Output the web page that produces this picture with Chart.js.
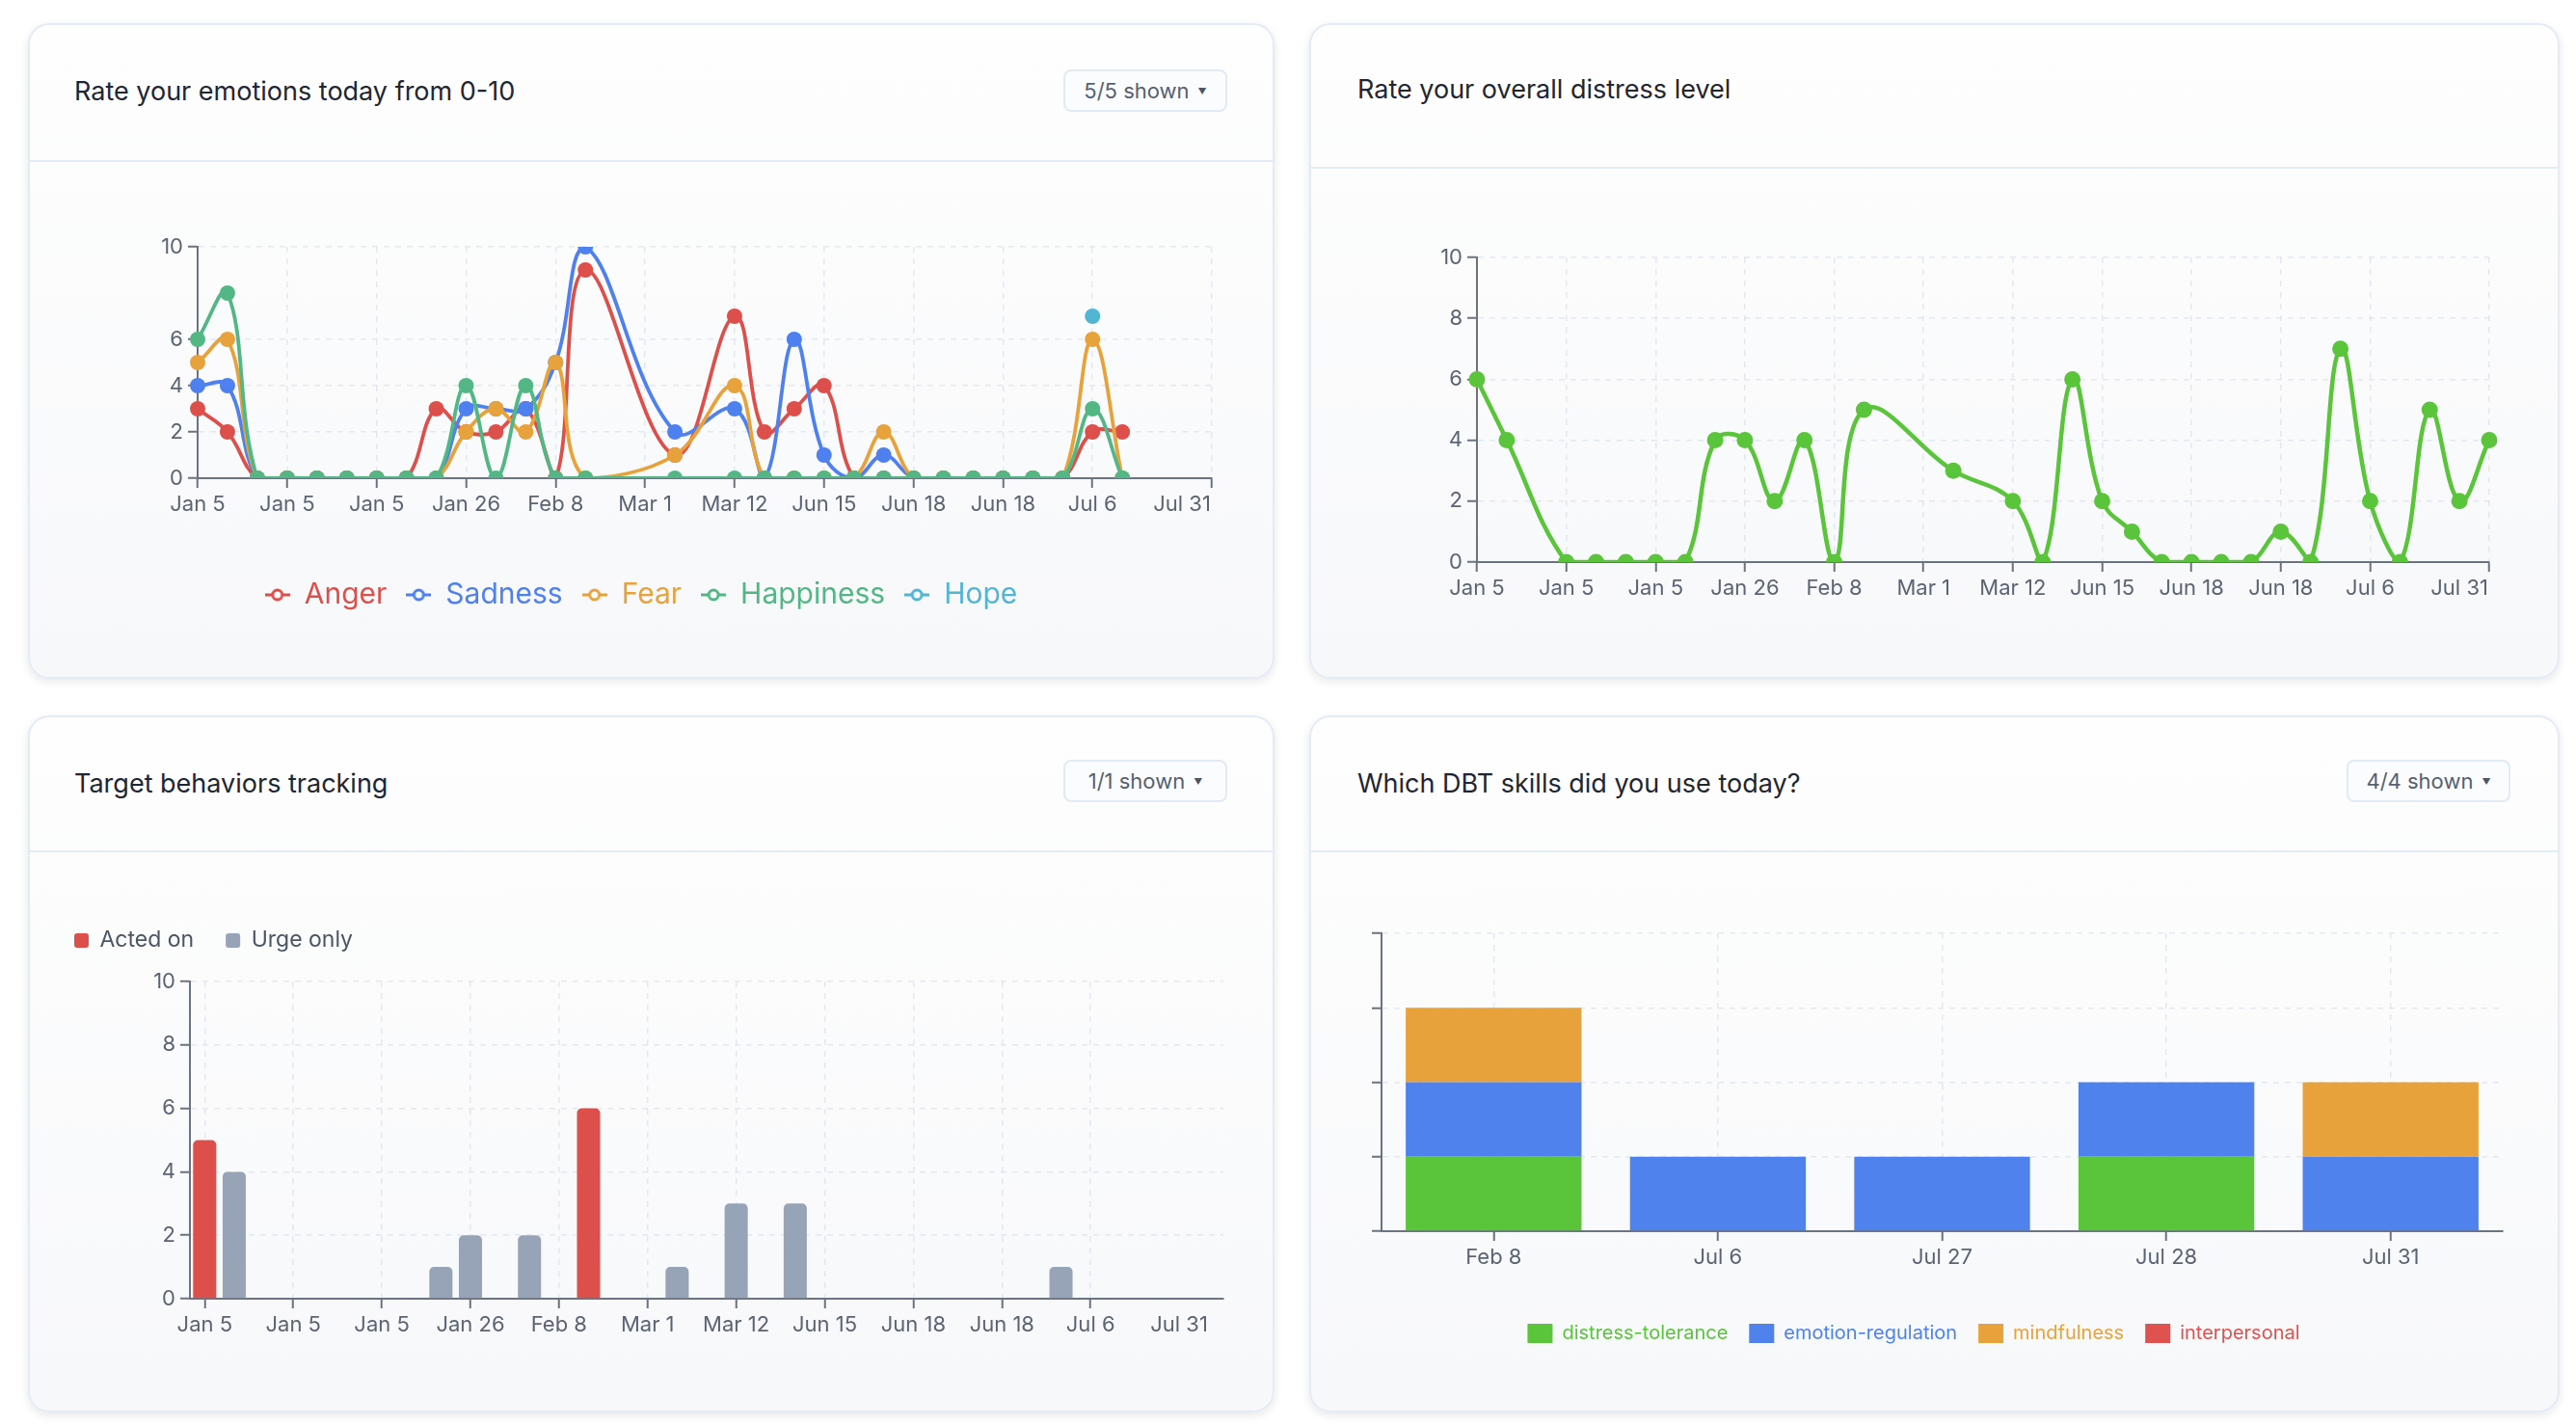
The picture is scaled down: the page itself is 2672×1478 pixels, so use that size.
<!DOCTYPE html>
<html>
<head>
<meta charset="utf-8">
<script src="https://cdn.jsdelivr.net/npm/chart.js@4.4.1/dist/chart.umd.min.js"></script>
<style>
  body { margin: 0; width: 2672px; height: 1478px; position: relative; overflow: hidden; background: #fff; font-family: Inter, 'Noto Sans', sans-serif; }
  .card { position: absolute; box-sizing: border-box; border: 2px solid #e3ebf6; border-radius: 22px; background: linear-gradient(180deg, #fefefe 0%, #f7f8fa 100%); box-shadow: 0 3px 10px rgba(15, 23, 42, 0.10); }
  .head { position: absolute; left: 0; right: 0; top: 0; box-sizing: border-box; border-bottom: 2px solid #e3ebf6; }
  .title { position: absolute; font-size: 27px; line-height: 1; color: #1f2633; transform: translateY(-50%); white-space: nowrap; }
  .btn { position: absolute; width: 170px; height: 44px; box-sizing: border-box; border: 2px solid #e2eaf4; border-radius: 8px; background: #fafcfe; color: #566071; font-size: 22px; display: flex; align-items: center; justify-content: center; }
  .btn .caret { font-size: 9px; margin-left: 9px; color: #4b5563; }
  .body { position: absolute; left: 0; right: 0; bottom: 0; }
</style>
</head>
<body>

<div class="card" style="left:29px; top:24px; width:1293px; height:680px;">
  <div class="head" style="height:142px;">
    <div class="title" style="left:46px; top:68px;">Rate your emotions today from 0-10</div>
    <div class="btn" style="right:47px; top:46px;">5/5 shown<span class="caret">▼</span></div>
  </div>
  <div class="body" style="top:142px;"><canvas id="emotions"></canvas></div>
</div>

<div class="card" style="left:1358px; top:24px; width:1297px; height:680px;">
  <div class="head" style="height:149px;">
    <div class="title" style="left:48px; top:66px;">Rate your overall distress level</div>
  </div>
  <div class="body" style="top:149px;"><canvas id="distress"></canvas></div>
</div>

<div class="card" style="left:29px; top:742px; width:1293px; height:723px;">
  <div class="head" style="height:140px;">
    <div class="title" style="left:46px; top:68px;">Target behaviors tracking</div>
    <div class="btn" style="right:47px; top:44px;">1/1 shown<span class="caret">▼</span></div>
  </div>
  <div class="body" style="top:140px;"><canvas id="behaviors"></canvas></div>
</div>

<div class="card" style="left:1358px; top:742px; width:1297px; height:723px;">
  <div class="head" style="height:140px;">
    <div class="title" style="left:48px; top:68px;">Which DBT skills did you use today?</div>
    <div class="btn" style="right:49px; top:44px;">4/4 shown<span class="caret">▼</span></div>
  </div>
  <div class="body" style="top:140px;"><canvas id="skills"></canvas></div>
</div>

<script>
// one label per check-in, shared by the three daily charts
const dates = ['Jan 5', 'Jan 5', 'Jan 5', 'Jan 5', 'Jan 5', 'Jan 5', 'Jan 5', 'Jan 5', 'Jan 19', 'Jan 26',
  'Jan 26', 'Feb 2', 'Feb 8', 'Feb 8', 'Feb 15', 'Mar 1', 'Mar 5', 'Mar 8', 'Mar 12', 'Mar 20',
  'Jun 15', 'Jun 15', 'Jun 16', 'Jun 17', 'Jun 18', 'Jun 18', 'Jun 18', 'Jun 18', 'Jun 30', 'Jul 6',
  'Jul 6', 'Jul 27', 'Jul 28', 'Jul 31', 'Jul 31'];
// which dates get a tick (34 only gets the tick mark, 33 only the label)
const dateTicks = [0, 3, 6, 9, 12, 15, 18, 21, 24, 27, 30, 33, 34];
const barTicks = [0, 3, 6, 9, 12, 15, 18, 21, 24, 27, 30, 33];

const anger     = [3, 2, 0, 0, 0, 0, 0, 0, 3, 2, 2, 3, 0, 9, null, null, 1, null, 7, 2, 3, 4, 0, 0, 0, 0, 0, 0, 0, 0, 2, 2, null, null, null];
const sadness   = [4, 4, 0, 0, 0, 0, 0, 0, 0, 3, 3, 3, 5, 10, null, null, 2, null, 3, 0, 6, 1, 0, 1, 0, 0, 0, 0, 0, 0, null, null, null, null, null];
const fear      = [5, 6, 0, 0, 0, 0, 0, 0, 0, 2, 3, 2, 5, 0, null, null, 1, null, 4, 0, 0, 0, 0, 2, 0, 0, 0, 0, 0, 0, 6, 0, null, null, null];
const happiness = [6, 8, 0, 0, 0, 0, 0, 0, 0, 4, 0, 4, 0, 0, null, null, 0, null, 0, 0, 0, 0, 0, 0, 0, 0, 0, 0, 0, 0, 3, 0, null, null, null];
const hope      = [null, null, null, null, null, null, null, null, null, null, null, null, null, null, null, null, null, null,
  null, null, null, null, null, null, null, null, null, null, null, null, 7, null, null, null, null];
const emotionTicks = [0, 2, 4, 6, 10];

const distress = [6, 4, null, 0, 0, 0, 0, 0, 4, 4, 2, 4, 0, 5, null, null, 3, null, 2, 0, 6, 2, 1, 0, 0, 0, 0, 1, 0, 7, 2, 0, 5, 2, 4];

const actedOn  = [5, 0, 0, 0, 0, 0, 0, 0, 0, 0, 0, 0, 0, 6, 0, 0, 0, 0, 0, 0, 0, 0, 0, 0, 0, 0, 0, 0, 0, 0, 0, 0, 0, 0, 0];
const urgeOnly = [0, 4, 0, 0, 0, 0, 0, 0, 1, 2, 0, 2, 0, 0, 0, 0, 1, 0, 3, 0, 3, 0, 0, 0, 0, 0, 0, 0, 0, 1, 0, 0, 0, 0, 0];

const skillDates = ['Feb 8', 'Jul 6', 'Jul 27', 'Jul 28', 'Jul 31'];
const distressTolerance = [1, 0, 0, 1, 0];
const emotionRegulation = [1, 1, 1, 1, 1];
const mindfulness       = [1, 0, 0, 0, 1];
const interpersonal     = [0, 0, 0, 0, 0];

const colors = {
  anger: '#dd4f4a', sadness: '#4f80ef', fear: '#e8a23b', happiness: '#52b784', hope: '#52b5d4',
  distress: '#5ac43b', urge: '#97a3b6', skillGreen: '#5ac43b', skillBlue: '#4f82ec', skillOrange: '#e8a23c', skillRed: '#e0524f'
};
const axisColor = '#6b7280';
const gridColor = 'rgba(210, 219, 231, 0.55)';

Chart.defaults.font.family = 'Inter, "Noto Sans", sans-serif';
Chart.defaults.font.size = 22;
Chart.defaults.color = '#5b6473';
Chart.defaults.animation = false;
Chart.defaults.plugins.tooltip.enabled = false;

// hides the tick mark at the "Jul 31" label, the end tick carries the mark instead
function tickMarkColor(ctx) {
  return ctx.tick && ctx.tick.value === 33 ? 'rgba(0,0,0,0)' : axisColor;
}
function gridLineColor(ctx) {
  return ctx.tick && ctx.tick.value === 33 ? 'rgba(0,0,0,0)' : gridColor;
}

function xAxis(height, ticks, isBar) {
  return {
    offset: !!isBar,
    stacked: !!isBar,
    afterBuildTicks: (axis) => { axis.ticks = ticks.map(v => ({value: v})); },
    afterFit: (scale) => { scale.height = height; },
    ticks: {
      autoSkip: false, maxRotation: 0, padding: 4,
      callback: (value) => value === 34 ? '' : dates[value]
    },
    grid: { offset: false, color: gridLineColor, lineWidth: 1.5, tickColor: tickMarkColor, tickLength: 10, tickWidth: 2, tickBorderDash: [] },
    border: { color: axisColor, width: 2, dash: [6, 6] }
  };
}

function yAxis(width, max, extra) {
  return Object.assign({
    min: 0, max: max,
    afterFit: (scale) => { scale.width = width; },
    ticks: { stepSize: 2, padding: 5 },
    grid: { color: gridColor, lineWidth: 1.5, tickColor: axisColor, tickLength: 10, tickWidth: 2, tickBorderDash: [] },
    border: { color: axisColor, width: 2, dash: [6, 6] }
  }, extra || {});
}

// adds room under a legend box (Chart.js has no legend margin option)
function legendGap(gap) {
  return {
    id: 'legendGap',
    beforeInit(chart) {
      const fit = chart.legend.fit;
      chart.legend.fit = function () { fit.call(this); this.height += gap; };
    }
  };
}

// "-o-" legend marker
function lineIcon(color) {
  const c = document.createElement('canvas');
  c.width = 26; c.height = 16;
  const g = c.getContext('2d');
  g.strokeStyle = color; g.lineWidth = 3;
  g.beginPath(); g.moveTo(0, 8); g.lineTo(26, 8); g.stroke();
  g.fillStyle = '#fafbfc';
  g.beginPath(); g.arc(13, 8, 5, 0, Math.PI * 2); g.fill(); g.stroke();
  return c;
}

function emotionSet(label, data, color, order) {
  return {
    label: label, data: data, order: order,
    borderColor: color, backgroundColor: color,
    pointBackgroundColor: color, pointBorderWidth: 0, pointRadius: 8,
    borderWidth: 3.8, tension: 0.4, spanGaps: true
  };
}

const emotionColors = [colors.anger, colors.sadness, colors.fear, colors.happiness, colors.hope];

new Chart(document.getElementById('emotions'), {
  type: 'line',
  data: {
    labels: dates,
    datasets: [
      emotionSet('Anger', anger, colors.anger, 5),
      emotionSet('Sadness', sadness, colors.sadness, 4),
      emotionSet('Fear', fear, colors.fear, 3),
      emotionSet('Happiness', happiness, colors.happiness, 2),
      emotionSet('Hope', hope, colors.hope, 1)
    ]
  },
  options: {
    responsive: true, maintainAspectRatio: false,
    layout: { padding: { top: 88, left: 42, right: 63, bottom: 60 } },
    plugins: {
      legend: {
        position: 'bottom',
        labels: {
          usePointStyle: true, boxWidth: 26, padding: 20, font: { size: 30 },
          sort: (a, b) => a.datasetIndex - b.datasetIndex,
          generateLabels: (chart) => Chart.defaults.plugins.legend.labels.generateLabels(chart).map(item => ({
            ...item,
            pointStyle: lineIcon(emotionColors[item.datasetIndex]),
            fontColor: emotionColors[item.datasetIndex]
          }))
        }
      }
    },
    scales: {
      x: xAxis(86, dateTicks),
      y: yAxis(132, 10, { afterBuildTicks: (axis) => { axis.ticks = emotionTicks.map(v => ({value: v})); } })
    }
  }
});

new Chart(document.getElementById('distress'), {
  type: 'line',
  data: {
    labels: dates,
    datasets: [{
      label: 'Distress', data: distress,
      borderColor: colors.distress, backgroundColor: colors.distress,
      pointBackgroundColor: colors.distress, pointBorderWidth: 0, pointRadius: 8.5,
      borderWidth: 4.5, tension: 0.4, spanGaps: true
    }]
  },
  options: {
    responsive: true, maintainAspectRatio: false,
    layout: { padding: { top: 92, left: 40, right: 71, bottom: 59 } },
    plugins: { legend: { display: false } },
    scales: {
      x: xAxis(60, dateTicks),
      y: yAxis(132, 10)
    }
  }
});

new Chart(document.getElementById('behaviors'), {
  type: 'bar',
  data: {
    labels: dates,
    datasets: [
      { label: 'Acted on', data: actedOn, backgroundColor: colors.anger, borderRadius: 5, borderSkipped: 'start', barPercentage: 0.98, categoryPercentage: 0.8 },
      { label: 'Urge only', data: urgeOnly, backgroundColor: colors.urge, borderRadius: 5, borderSkipped: 'start', barPercentage: 0.98, categoryPercentage: 0.8 }
    ]
  },
  options: {
    responsive: true, maintainAspectRatio: false,
    layout: { padding: { top: 47, left: 13, right: 51, bottom: 56 } },
    plugins: {
      legend: {
        position: 'top', align: 'start',
        labels: { boxWidth: 15, boxHeight: 15, useBorderRadius: true, borderRadius: 3, padding: 33, color: '#4b5563', font: { size: 23 } }
      }
    },
    scales: {
      x: xAxis(60, barTicks, true),
      y: yAxis(153, 10, { stacked: true })
    }
  },
  plugins: [legendGap(21)]
});

const skillColors = [colors.skillGreen, colors.skillBlue, colors.skillOrange, colors.skillRed];

function skillSet(label, data, color) {
  return { label: label, data: data, backgroundColor: color, borderWidth: 0, barPercentage: 0.98, categoryPercentage: 0.8 };
}

new Chart(document.getElementById('skills'), {
  type: 'bar',
  data: {
    labels: skillDates,
    datasets: [
      skillSet('distress-tolerance', distressTolerance, colors.skillGreen),
      skillSet('emotion-regulation', emotionRegulation, colors.skillBlue),
      skillSet('mindfulness', mindfulness, colors.skillOrange),
      skillSet('interpersonal', interpersonal, colors.skillRed)
    ]
  },
  options: {
    responsive: true, maintainAspectRatio: false,
    layout: { padding: { top: 84, left: 14, right: 57, bottom: 60 } },
    plugins: {
      legend: {
        position: 'bottom',
        labels: {
          boxWidth: 26, boxHeight: 20, padding: 22, font: { size: 20 },
          generateLabels: (chart) => Chart.defaults.plugins.legend.labels.generateLabels(chart).map(item => ({
            ...item, fontColor: skillColors[item.datasetIndex]
          }))
        }
      }
    },
    scales: {
      x: {
        stacked: true,
        afterFit: (scale) => { scale.height = 74; },
        ticks: { maxRotation: 0, padding: 4 },
        grid: { offset: false, color: gridColor, lineWidth: 1.5, tickColor: axisColor, tickLength: 10, tickWidth: 2, tickBorderDash: [] },
        border: { color: axisColor, width: 2, dash: [6, 6] }
      },
      y: yAxis(59, 4, { stacked: true, ticks: { stepSize: 1, callback: () => '' } })
    }
  }
});
</script>
</body>
</html>
